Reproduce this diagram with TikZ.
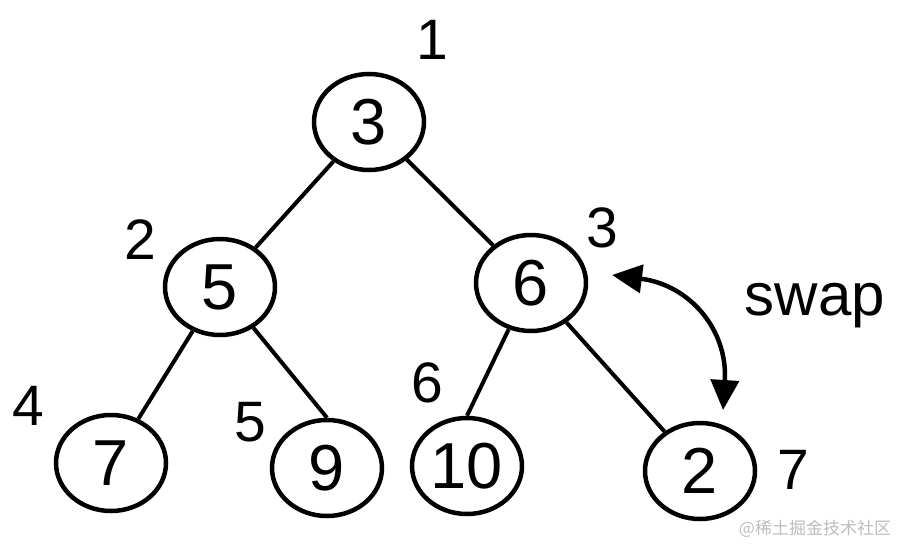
\documentclass[tikz,border=0pt]{standalone}
\usepackage{fontspec}
\setmainfont{Liberation Sans}
\newfontfamily\cjkfont{Noto Sans CJK SC}
\usepackage{tikz}
\usetikzlibrary{positioning, arrows.meta, shapes.geometric}
\definecolor{MarkGray}{HTML}{BDBDBD}

\begin{document}
\begin{tikzpicture}[
      x=1pt, y=-1pt,
      heapnode/.style={ellipse, draw, line width=4.5pt, minimum width=110pt, minimum height=96pt, inner sep=0pt, font=\fontsize{65}{65}\selectfont},
      link/.style={line width=4pt},
      idx/.style={inner sep=0pt, font=\fontsize{57}{57}\selectfont},
      swaparrow/.style={line width=4.5pt, {Triangle[length=30pt,width=28pt]}-{Triangle[length=30pt,width=28pt]}}
  ]
    \useasboundingbox (0,0) rectangle (901,546);
    % heap nodes
    \node[heapnode](r) at (369,122){3};
    \node[heapnode](a) at (220,287){5};
    \node[heapnode](b) at (531,283){6};
    \node[heapnode](c) at (111,463){7};
    \node[heapnode](d) at (327,468){9};
    \node[heapnode](e) at (467,466){10};
    \node[heapnode](f) at (700,471){2};
    \draw[link](r)--(a); \draw[link](r)--(b);
    \draw[link](a)--(c); \draw[link](a)--(d.north);
    \draw[link](b)--(e.north); \draw[link](b)--(f);
    % array indices
    \node[idx](i1) at (432,40){1};
    \node[idx](i2) at (140,240){2};
    \node[idx](i3) at (602,228){3};
    \node[idx](i4) at (28,406){4};
    \node[idx](i5) at (250,422){5};
    \node[idx](i6) at (427,383){6};
    \node[idx](i7) at (793,470){7};
    % swap
    \coordinate(s1) at (612,275);
    \coordinate(s2) at (723,410);
    \draw[swaparrow](s1) .. controls (690,285) and (728,330) .. (s2);
    \node[idx, anchor=base, font=\fontsize{60}{60}\selectfont](sw) at (815,315){swap};
    \node[font=\cjkfont\fontsize{17}{17}\selectfont, text=MarkGray, inner sep=0pt](mark) at (815,529){@稀土掘金技术社区};
  \end{tikzpicture}
\end{document}
